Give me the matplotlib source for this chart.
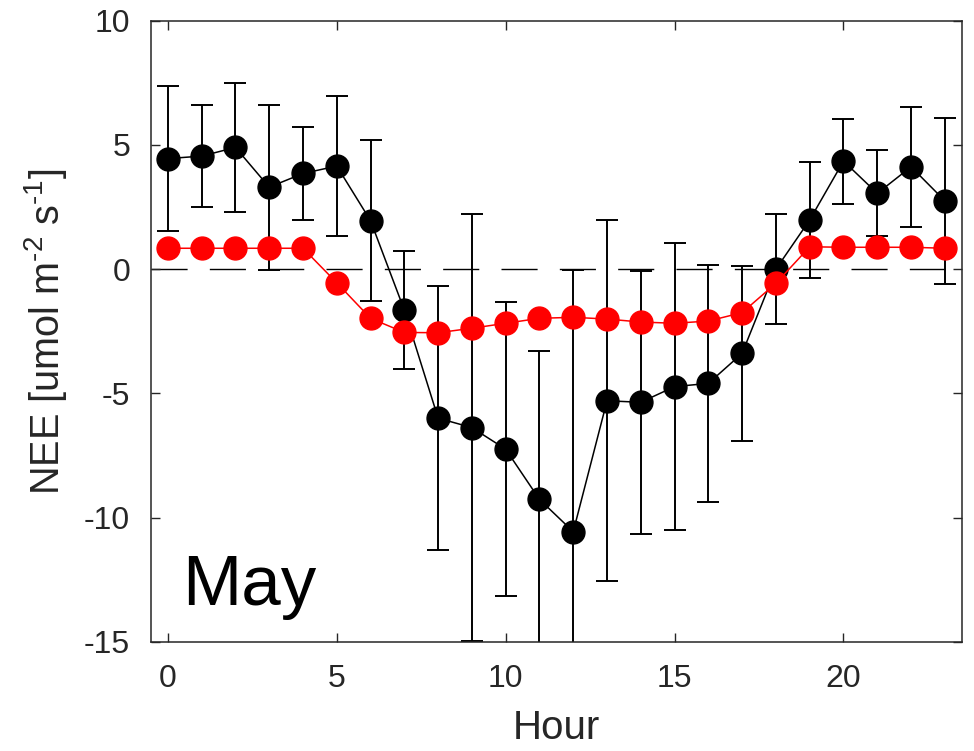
import numpy as np
import matplotlib.pyplot as plt

plt.rcParams['font.family'] = ['Liberation Sans', 'DejaVu Sans']
plt.rcParams['mathtext.fontset'] = 'custom'
plt.rcParams['mathtext.rm'] = 'Liberation Sans'
plt.rcParams['axes.unicode_minus'] = False

# dati
hours = np.arange(24)
nee_obs = [4.45, 4.55, 4.90, 3.30, 3.85, 4.15, 1.95, -1.65, -6.00, -6.38, -7.25, -9.27,
           -10.57, -5.30, -5.36, -4.73, -4.60, -3.39, 0.00, 1.98, 4.35, 3.05, 4.12, 2.75]
nee_std = [2.93, 2.04, 2.60, 3.32, 1.87, 2.80, 3.25, 2.39, 5.32, 8.60, 5.91, 5.97,
           10.53, 7.26, 5.30, 5.77, 4.78, 3.53, 2.21, 2.34, 1.71, 1.73, 2.41, 3.34]
nee_mod = [0.84, 0.84, 0.84, 0.84, 0.84, -0.55, -1.98, -2.55, -2.56, -2.38, -2.18, -1.98,
           -1.94, -2.01, -2.13, -2.18, -2.09, -1.75, -0.57, 0.90, 0.88, 0.88, 0.88, 0.84]
month = 'May'

fig = plt.figure(figsize=(9.74, 7.51), dpi=100)
ax = fig.add_axes([0.155, 0.1455, 0.8324, 0.8269])

ax.axhline(0, color='black', lw=1.0, dashes=(26, 16), zorder=1)

ax.errorbar(hours, nee_obs, yerr=nee_std, color='black', lw=1.1, elinewidth=1.4,
            capsize=7.8, capthick=1.4, marker='o', markersize=16.5,
            markerfacecolor='black', markeredgecolor='black', zorder=2)
ax.plot(hours, nee_mod, color='red', lw=1.1, marker='o', markersize=16.5,
        markerfacecolor='red', markeredgecolor='red', zorder=3)

ax.set_xlim(-0.5, 23.5)
ax.set_ylim(-15, 10)
ax.set_xticks([0, 5, 10, 15, 20])
ax.set_yticks([-15, -10, -5, 0, 5, 10])

txt_col = '#262626'
for s in ax.spines.values():
    s.set_color(txt_col)
    s.set_linewidth(1.1)
ax.tick_params(direction='in', length=6.5, width=1.0, colors=txt_col,
               top=True, right=True, labelsize=23)
ax.tick_params(axis='x', pad=16)
ax.tick_params(axis='y', pad=15)

ax.set_xlabel('Hour', fontsize=29, color=txt_col, labelpad=11)
ax.set_ylabel(r'NEE [umol m$^{\text{-}2}$ s$^{\text{-}1}$]', fontsize=28.5,
              color=txt_col, labelpad=11)

ax.text(0.039, 0.059, month, transform=ax.transAxes, fontsize=51,
        ha='left', va='baseline', color='black')

fig.savefig('out.png', dpi=100)
